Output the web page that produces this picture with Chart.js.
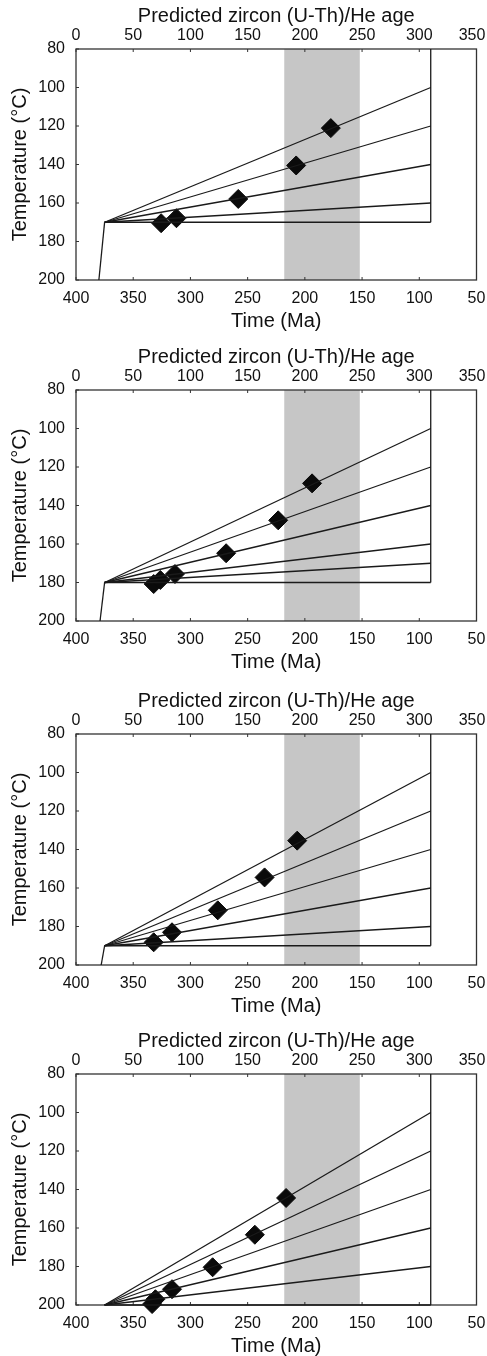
<!DOCTYPE html>
<html>
<head>
<meta charset="utf-8">
<script src="https://cdn.jsdelivr.net/npm/chart.js@4.4.1/dist/chart.umd.min.js"></script>
<style>
  body { margin: 0; background: #fff; }
  .panel { position: absolute; left: 0; width: 487px; height: 331px; }
</style>
</head>
<body>
<div class="panel" style="top:0px"><canvas id="chart0"></canvas></div>
<div class="panel" style="top:341px"><canvas id="chart1"></canvas></div>
<div class="panel" style="top:685px"><canvas id="chart2"></canvas></div>
<div class="panel" style="top:1025px"><canvas id="chart3"></canvas></div>
<script>
// axis ticks
const tempTicks = [80, 100, 120, 140, 160, 180, 200];
const timeTicks = [400, 350, 300, 250, 200, 150, 100, 50];
const ageTicks = [0, 50, 100, 150, 200, 250, 300, 350];

// observed age range (top axis, shaded)
const observedAgeBand = [182, 248];

// thermal histories (Time in Ma, temperature in °C)
const reheatStart = [380, 379, 378, null];
const plateauStart = 375;
const coolingEnd = 90;
const plateauTemp = [170, 180, 190, 200];
const endTemps = [
  [100, 120, 140, 160, 170],
  [100, 120, 140, 160, 170, 180],
  [100, 120, 140, 160, 180, 190],
  [100, 120, 140, 160, 180, 200],
];

// predicted ages (top axis) and temperatures at those ages
const predictedAges = [
  [74.4, 87.8, 141.8, 192.4, 222.7],
  [67.9, 73.7, 86.5, 131.2, 176.7, 206.3],
  [67.9, 83.9, 123.9, 164.8, 193.3],
  [66.5, 69.4, 83.9, 119.4, 156.3, 183.6],
];
const predictedTemps = [
  [170.5, 167.9, 157.9, 140.5, 121.1],
  [180.8, 178.7, 175.6, 164.8, 147.7, 128.5],
  [188.2, 183, 171.6, 154.5, 135.4],
  [199.5, 197, 191.8, 180.4, 163.5, 144.4],
];

const FONT = "'Liberation Sans', Arial, sans-serif";
const TXT = "#111";
const LINE = "#1a1a1a";

// grey band + plot frame + inward tick marks
const framePlugin = {
  id: "frame",
  beforeDatasetsDraw(chart) {
    const { ctx, chartArea: a, scales } = chart;
    ctx.save();
    const x0 = scales.x2.getPixelForValue(observedAgeBand[0]);
    const x1 = scales.x2.getPixelForValue(observedAgeBand[1]);
    ctx.fillStyle = "#c6c6c6";
    ctx.fillRect(x0, a.top, x1 - x0, a.bottom - a.top);

    ctx.strokeStyle = "#333";
    ctx.lineWidth = 1.3;
    ctx.strokeRect(a.left, a.top, a.right - a.left, a.bottom - a.top);
    ctx.lineWidth = 1;
    ctx.beginPath();
    ageTicks.forEach((v) => {
      const px = scales.x2.getPixelForValue(v);
      ctx.moveTo(px, a.top);
      ctx.lineTo(px, a.top + 3);
    });
    timeTicks.forEach((v) => {
      const px = scales.x.getPixelForValue(v);
      ctx.moveTo(px, a.bottom);
      ctx.lineTo(px, a.bottom - 3);
    });
    tempTicks.forEach((v) => {
      const py = scales.y.getPixelForValue(v);
      ctx.moveTo(a.left, py);
      ctx.lineTo(a.left + 3, py);
    });
    ctx.stroke();
    ctx.restore();
  },
};

function pathSet(points) {
  return {
    type: "scatter",
    data: points,
    xAxisID: "x",
    yAxisID: "y",
    showLine: true,
    borderColor: LINE,
    borderWidth: 1.3,
    pointRadius: 0,
    clip: false,
  };
}

function makePanel(i) {
  const datasets = [];
  if (reheatStart[i] !== null) {
    datasets.push(pathSet([
      { x: reheatStart[i], y: 200 },
      { x: plateauStart, y: plateauTemp[i] },
    ]));
  }
  endTemps[i].forEach((t) => {
    datasets.push(pathSet([
      { x: plateauStart, y: plateauTemp[i] },
      { x: coolingEnd, y: t },
    ]));
  });
  datasets.push(pathSet([
    { x: coolingEnd, y: Math.max(...endTemps[i]) },
    { x: coolingEnd, y: 80 },
  ]));
  datasets.push({
    type: "scatter",
    data: predictedAges[i].map((a, k) => ({ x: a, y: predictedTemps[i][k] })),
    xAxisID: "x2",
    yAxisID: "y",
    pointStyle: "rectRot",
    pointRadius: 9.5,
    backgroundColor: "#0a0a0a",
    borderColor: "#0a0a0a",
    borderWidth: 1,
    clip: false,
  });

  const tickFont = { family: FONT, size: 16 };
  const titleFont = { family: FONT, size: 20, lineHeight: 1 };

  new Chart(document.getElementById("chart" + i).getContext("2d"), {
    type: "scatter",
    data: { datasets: datasets },
    options: {
      responsive: true,
      maintainAspectRatio: false,
      animation: false,
      devicePixelRatio: 1,
      layout: { padding: { left: 0, right: 9, top: 0, bottom: 0 } },
      plugins: { legend: { display: false }, tooltip: { enabled: false } },
      scales: {
        x: {
          type: "linear",
          position: "bottom",
          min: 50,
          max: 400,
          reverse: true,
          afterBuildTicks: (s) => { s.ticks = timeTicks.map((v) => ({ value: v })); },
          grid: { display: false, drawTicks: false },
          border: { display: false },
          ticks: { font: tickFont, color: TXT, padding: 9, maxRotation: 0, autoSkip: false },
          title: { display: true, text: "Time (Ma)", font: titleFont, color: TXT, padding: { top: 0, bottom: 0 } },
          afterFit: (s) => { s.height = 51; s.paddingLeft = 0; s.paddingRight = 0; },
        },
        x2: {
          type: "linear",
          position: "top",
          min: 0,
          max: 350,
          afterBuildTicks: (s) => { s.ticks = ageTicks.map((v) => ({ value: v })); },
          grid: { display: false, drawTicks: false },
          border: { display: false },
          ticks: {
            font: tickFont, color: TXT, padding: 4, maxRotation: 0, autoSkip: false,
            callback: (v) => (v === 350 ? v + "  " : String(v)),
          },
          title: { display: true, text: "Predicted zircon (U-Th)/He age", font: titleFont, color: TXT, padding: { top: 6, bottom: 0 } },
          afterFit: (s) => { s.height = 49; s.paddingLeft = 0; s.paddingRight = 0; },
        },
        y: {
          type: "linear",
          position: "left",
          min: 80,
          max: 200,
          reverse: true,
          afterBuildTicks: (s) => { s.ticks = tempTicks.map((v) => ({ value: v })); },
          grid: { display: false, drawTicks: false },
          border: { display: false },
          ticks: { font: tickFont, color: TXT, padding: 11, autoSkip: false },
          title: { display: true, text: "Temperature (°C)", font: titleFont, color: TXT, padding: { top: 10, bottom: 0 } },
          afterFit: (s) => { s.width = 76; s.paddingTop = 0; s.paddingBottom = 0; },
        },
      },
    },
    plugins: [framePlugin],
  });
}

[0, 1, 2, 3].forEach(makePanel);
</script>
</body>
</html>
